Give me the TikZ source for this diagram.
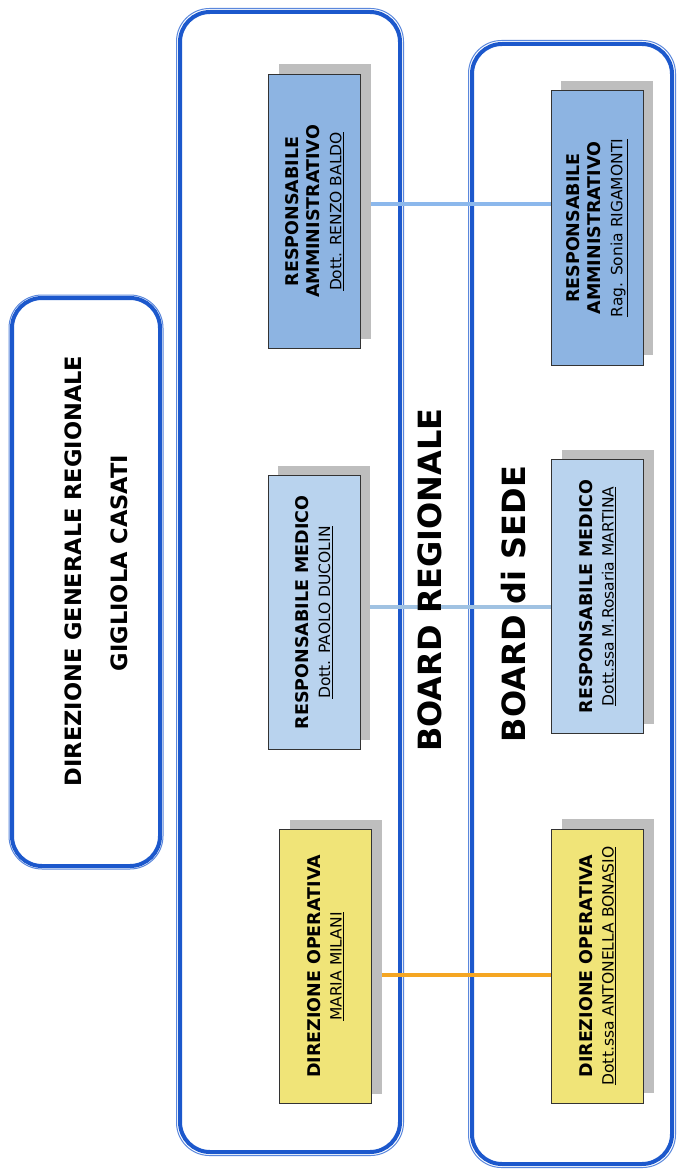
\documentclass[tikz,border=0pt]{standalone}
\usepackage{fontspec}
\setmainfont{DejaVu Sans}
\pgfdeclarelayer{back}
\pgfdeclarelayer{mid}
\pgfsetlayers{back,mid,main}
\definecolor{frameblue}{RGB}{28,88,204}
\definecolor{framelight}{RGB}{90,135,220}
\definecolor{ammfill}{RGB}{141,180,226}
\definecolor{medfill}{RGB}{185,211,238}
\definecolor{opfill}{RGB}{240,228,120}
\definecolor{shadowgray}{RGB}{190,190,190}
\definecolor{ammline}{RGB}{140,184,236}
\definecolor{medline}{RGB}{160,194,226}
\definecolor{opline}{RGB}{245,166,35}
\newcommand{\pname}[1]{{\fontsize{15.5}{21.5}\selectfont\underline{#1}}}
\tikzset{
  frame/.style={draw=frameblue, line width=4pt, rounded corners=30pt},
  frameout/.style={draw=framelight, line width=1pt, rounded corners=33pt},
  card/.style={rotate=90, draw=black!80, line width=1pt, minimum width=274pt,
    minimum height=92pt, align=center, inner sep=0pt,
    font=\fontsize{17.5}{21.5}\selectfont},
  cardshadow/.style={rotate=90, fill=shadowgray, minimum width=274pt,
    minimum height=92pt, inner sep=0pt},
  conn/.style={line width=3.2pt},
  big/.style={rotate=90, font=\fontsize{32}{38}\bfseries\selectfont},
  dgtext/.style={rotate=90, font=\fontsize{22.5}{27}\bfseries\selectfont},
}
\begin{document}
\begin{tikzpicture}[x=1pt,y=-1pt]
\useasboundingbox (0,0) rectangle (678,1169);
\begin{pgfonlayer}{back}
\fill[white] (0,0) rectangle (678,1169);
% Direzione generale box
\draw[frameout] (9,295) rectangle (163,869);
\draw[frame] (12,298) rectangle (160,866);
% Board regionale container
\draw[frameout] (176.5,8.5) rectangle (403.5,1155.5);
\draw[frame] (180,12) rectangle (400,1152);
% Board di sede container
\draw[frameout] (468.5,40.5) rectangle (675.5,1167.5);
\draw[frame] (472,44) rectangle (672,1164);
\end{pgfonlayer}

\node[dgtext] (dg1) at (73,571) {DIREZIONE GENERALE REGIONALE};
\node[dgtext] (dg2) at (119,563) {GIGLIOLA CASATI};

\node[big] (br) at (430,580) {BOARD REGIONALE};
\node[big] (bs) at (514,604) {BOARD di SEDE};

% shadows
\node[cardshadow] (RA1s) at (324.5,201.5) {};
\node[cardshadow] (RM1s) at (324,602.5) {};
\node[cardshadow] (DO1s) at (335.5,956.5) {};
\node[cardshadow] (RA2s) at (607,218) {};
\node[cardshadow] (RM2s) at (607.5,586.5) {};
\node[cardshadow] (DO2s) at (607.5,956) {};

% cards
\node[card, fill=ammfill] (RA1) at (314.5,211.5)
  {\textbf{RESPONSABILE}\\\textbf{AMMINISTRATIVO}\\\pname{Dott. RENZO BALDO}};
\node[card, fill=medfill] (RM1) at (314,612.5)
  {\textbf{RESPONSABILE MEDICO}\\\pname{Dott. PAOLO DUCOLIN}};
\node[card, fill=opfill] (DO1) at (325.5,966.5)
  {\textbf{DIREZIONE OPERATIVA}\\\pname{MARIA MILANI}};
\node[card, fill=ammfill] (RA2) at (597,228)
  {\textbf{RESPONSABILE}\\\textbf{AMMINISTRATIVO}\\\pname{Rag. Sonia RIGAMONTI}};
\node[card, fill=medfill] (RM2) at (597.5,596.5)
  {\textbf{RESPONSABILE MEDICO}\\\pname{Dott.ssa M.Rosaria MARTINA}};
\node[card, fill=opfill] (DO2) at (597.5,966)
  {\textbf{DIREZIONE OPERATIVA}\\\pname{Dott.ssa ANTONELLA BONASIO}};

% connectors
\begin{pgfonlayer}{mid}
\draw[conn, draw=ammline] (RA1.south |- 0,204) -- (RA2.north |- 0,204);
\draw[conn, draw=medline] (RM1.south |- 0,607) -- (RM2.north |- 0,607);
\draw[conn, draw=opline] (DO1.south |- 0,975) -- (DO2.north |- 0,975);
\end{pgfonlayer}
\end{tikzpicture}
\end{document}
